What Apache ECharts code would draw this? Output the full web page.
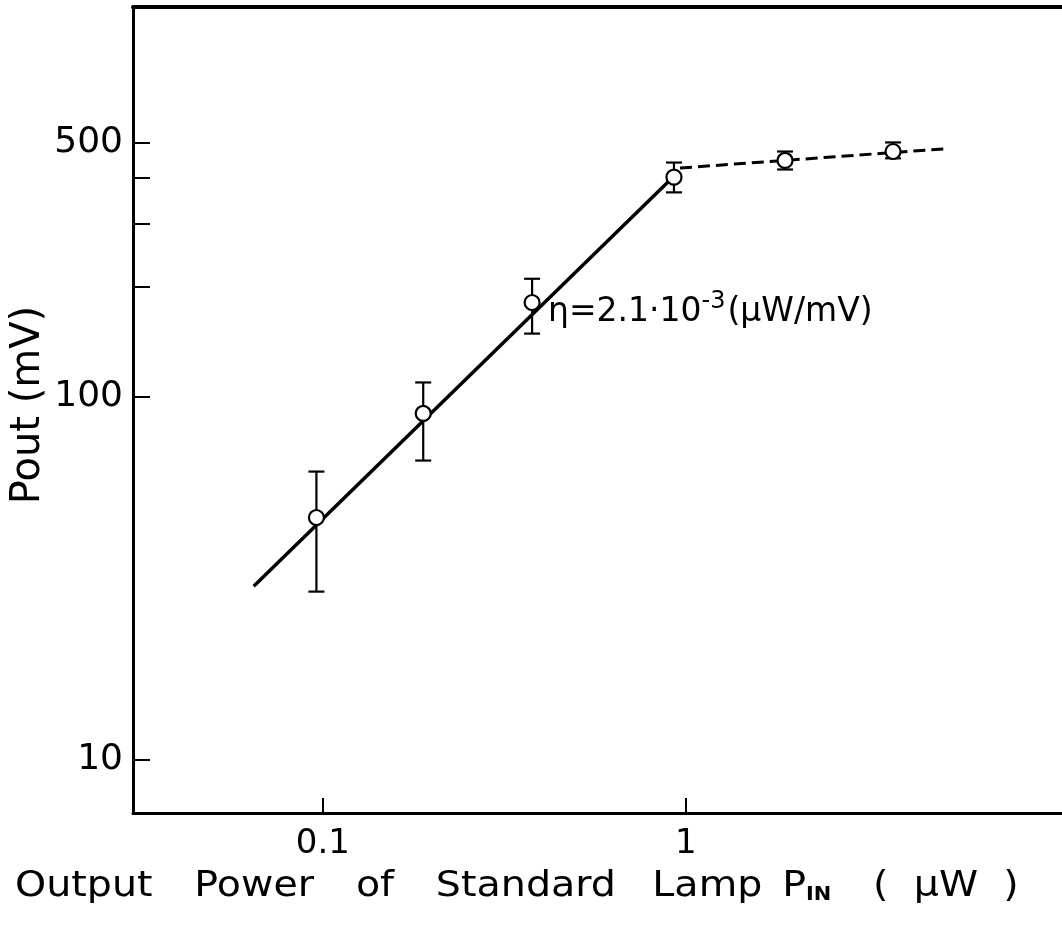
<!DOCTYPE html>
<html>
<head>
<meta charset="utf-8">
<script src="https://cdn.jsdelivr.net/npm/echarts@6/dist/echarts.min.js"></script>
<style>
html,body{margin:0;padding:0;background:#fff;}
#chart{width:1062px;height:925px;}
</style>
</head>
<body>
<div id="chart"></div>
<script>
// ---- data ----
const xTickValues = [0.1, 1];
const yLabelValues = [10, 100, 500];
const yTickValues = [10, 100, 200, 300, 400, 500];
const powerIn = [0.096, 0.189, 0.377, 0.927, 1.875, 3.72];   // µW
const pout    = [46.4, 89.8, 181.5, 402, 447, 473];           // mV
const errLow  = [29.0, 66.6, 149, 365, 422, 453];
const errHigh = [62.1, 109.3, 211, 441, 473, 501];
const fitSolidX = [0.0645, 0.903];
const fitSolidY = [30, 394];
const fitDashX = [0.963, 5.14];
const fitDashY = [426, 481];
const xRange = [0.03, 10.86];
const yRange = [7.12, 1183];

const FONT = 'DejaVu Sans';
const fmt = v => String(+(+v).toPrecision(3));

const chart = echarts.init(document.getElementById('chart'), null, {renderer: 'canvas'});

const pts = powerIn.map((x, i) => [x, pout[i]]);
const errs = powerIn.map((x, i) => [x, errLow[i], errHigh[i]]);
const solid = fitSolidX.map((x, i) => [x, fitSolidY[i]]);
const dashed = fitDashX.map((x, i) => [x, fitDashY[i]]);

const option = {
  backgroundColor: '#fff',
  animation: false,
  grid: {left: 133, right: 0, top: 7, bottom: 112, containLabel: false},
  xAxis: [{
    type: 'log', logBase: 10, min: xRange[0], max: xRange[1],
    splitLine: {show: false},
    axisLine: {show: true, lineStyle: {color: '#000', width: 3}},
    axisTick: {show: true, inside: true, length: 15, lineStyle: {color: '#000', width: 2}, customValues: xTickValues},
    axisLabel: {show: true, customValues: xTickValues, formatter: fmt, color: '#000', fontFamily: FONT, fontSize: 34, margin: 14},
    minorTick: {show: false}
  }, {
    type: 'log', logBase: 10, min: xRange[0], max: xRange[1], position: 'top',
    splitLine: {show: false},
    axisLine: {show: true, lineStyle: {color: '#000', width: 4}},
    axisTick: {show: false}, axisLabel: {show: false}
  }],
  yAxis: {
    type: 'log', logBase: 10, min: yRange[0], max: yRange[1],
    splitLine: {show: false},
    axisLine: {show: true, lineStyle: {color: '#000', width: 3}},
    axisTick: {show: true, inside: true, length: 17, lineStyle: {color: '#000', width: 2}, customValues: yTickValues},
    axisLabel: {show: true, customValues: yLabelValues, formatter: fmt, color: '#000', fontFamily: FONT, fontSize: 36, margin: 10}
  },
  graphic: [{
    type: 'text', x: 29, y: 405, rotation: Math.PI / 2,
    style: {text: 'Pout (mV)', font: '40px "DejaVu Sans"', fill: '#000', align: 'center', verticalAlign: 'middle'}
  }, {
    type: 'text', x: 15, y: 887, scaleX: 1.1,
    style: {
      text: '{a|Output}{g| }{a|Power}{g| }{a|of}{g| }{a|Standard}{k| }{a|Lamp}{h| }{a|P}{s|IN}{g| }{a|(  μW  )}',
      align: 'left', verticalAlign: 'middle',
      rich: {
        a: {font: '36px "DejaVu Sans"', fill: '#000'},
        g: {font: '36px "DejaVu Sans"', width: 38},
        k: {font: '36px "DejaVu Sans"', width: 33},
        h: {font: '36px "DejaVu Sans"', width: 18},
        s: {font: 'bold 19px "DejaVu Sans"', fill: '#000', padding: [16, 0, 0, 0]}
      }
    }
  }, {
    type: 'text', x: 548, y: 312,
    style: {
      text: '{a|η=2.1·10}{p|-3}{a|(μW/mV)}',
      align: 'left', verticalAlign: 'middle',
      rich: {
        a: {font: '33px "DejaVu Sans"', fill: '#000'},
        p: {font: '24px "DejaVu Sans"', fill: '#000', padding: [0, 2, 20, 0]}
      }
    }
  }],
  series: [{
    type: 'custom', name: 'error',
    data: errs,
    encode: {x: 0, y: [1, 2]},
    z: 2,
    renderItem: function (params, api) {
      const x = api.value(0);
      const lo = api.coord([x, api.value(1)]);
      const hi = api.coord([x, api.value(2)]);
      const w = 8;
      const st = {stroke: '#000', lineWidth: 2.2};
      return {type: 'group', children: [
        {type: 'line', shape: {x1: lo[0], y1: lo[1], x2: hi[0], y2: hi[1]}, style: st},
        {type: 'line', shape: {x1: hi[0] - w, y1: hi[1], x2: hi[0] + w, y2: hi[1]}, style: st},
        {type: 'line', shape: {x1: lo[0] - w, y1: lo[1], x2: lo[0] + w, y2: lo[1]}, style: st}
      ]};
    }
  }, {
    type: 'line', name: 'fit', data: solid, symbol: 'none', z: 3,
    lineStyle: {color: '#000', width: 3.5}
  }, {
    type: 'line', name: 'saturation', data: dashed, symbol: 'none', z: 3,
    lineStyle: {color: '#000', width: 3, type: [12, 6]}
  }, {
    type: 'scatter', name: 'measured', data: pts, z: 5,
    symbol: 'circle', symbolSize: 15,
    itemStyle: {color: '#fff', borderColor: '#000', borderWidth: 2.2, opacity: 1}
  }]
};
chart.setOption(option);
</script>
</body>
</html>
